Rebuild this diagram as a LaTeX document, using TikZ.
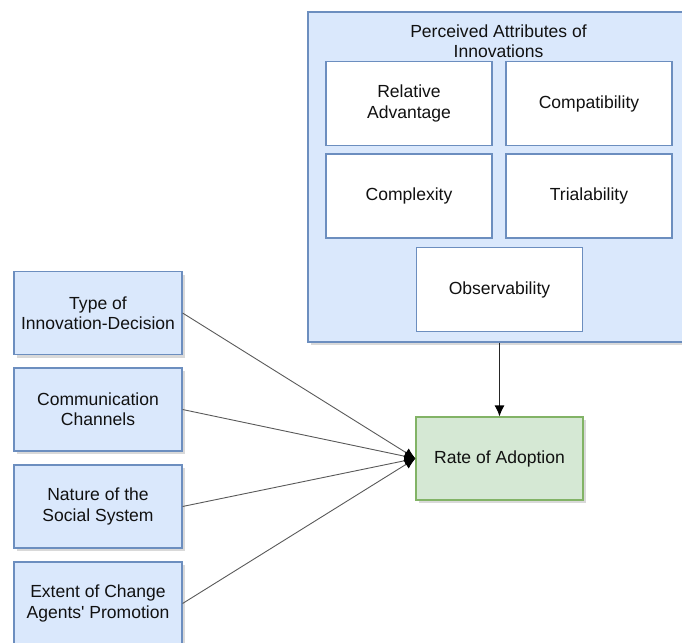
\documentclass[tikz,border=0pt]{standalone}
\usepackage{fontspec}
\setmainfont{Liberation Sans}[Ligatures=TeXOff]
\usetikzlibrary{shadows,arrows.meta}
\definecolor{bluefill}{HTML}{DAE8FC}
\definecolor{bluedraw}{HTML}{6C8EBF}
\definecolor{greenfill}{HTML}{D5E8D4}
\definecolor{greendraw}{HTML}{82B366}
\definecolor{txt}{HTML}{111111}
\tikzset{
  shad/.style={drop shadow={shadow xshift=3bp,shadow yshift=-3bp,opacity=0.25,fill=black!60}},
  bluebox/.style={draw=bluedraw,fill=bluefill,line width=1.1bp,shad,minimum width=168bp,minimum height=83bp,align=center,inner sep=0pt,text=txt},
  whitebox/.style={draw=bluedraw,fill=white,line width=1.1bp,minimum width=166bp,minimum height=84bp,align=center,inner sep=0pt,text=txt},
  greenbox/.style={draw=greendraw,fill=greenfill,line width=1.1bp,shad,minimum width=167bp,minimum height=83bp,align=center,inner sep=0pt,text=txt},
  tip/.style={-{Latex[length=11bp,width=10bp,black]}},
  conn/.style={draw=black!65,line width=0.9bp,tip},
  every node/.style={font=\fontsize{17.6}{20.5}\selectfont}
}
\begin{document}
\begin{tikzpicture}[x=1bp,y=-1bp]
\useasboundingbox (0,0) rectangle (682,643);
% container
\node[draw=bluedraw,fill=bluefill,line width=1.1bp,shad,minimum width=382bp,minimum height=330bp,inner sep=0pt] (cont) at (499,177) {};
\node[align=center,text=txt,inner sep=0pt] (title) at (498.5,41) {Perceived Attributes of\\Innovations};
\node[whitebox] (ra) at (409,103.5) {Relative\\Advantage};
\node[whitebox] (comp) at (589,103.5) {Compatibility};
\node[whitebox] (cplx) at (409,196) {Complexity};
\node[whitebox] (trial) at (589,196) {Trialability};
\node[whitebox] (obs) at (499.5,289.5) {Observability};
% rate
\node[greenbox] (rate) at (499.5,458.5) {Rate of Adoption};
% left
\node[bluebox] (t1) at (98,313) {Type of\\Innovation-Decision};
\node[bluebox] (t2) at (98,409.5) {Communication\\Channels};
\node[bluebox] (t3) at (98,506.5) {Nature of the\\Social System};
\node[bluebox] (t4) at (98,603.5) {Extent of Change\\Agents' Promotion};
% connectors
\draw[conn] (t1.east) -- (rate.west);
\draw[conn] (t2.east) -- (rate.west);
\draw[conn] (t3.east) -- (rate.west);
\draw[conn] (t4.east) -- (rate.west);
\draw[line width=1.1bp,draw=black!85,tip] (rate.north |- cont.south) -- (rate.north);
\end{tikzpicture}
\end{document}
